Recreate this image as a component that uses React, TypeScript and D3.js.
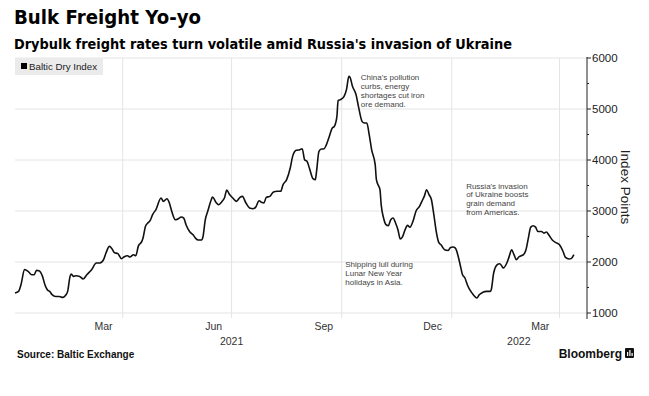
import * as d3 from 'd3';

// Baltic Dry Index
const DATES = [
  '2021-01-01', '2021-01-04', '2021-01-06', '2021-01-09', '2021-01-12', '2021-01-15', '2021-01-17', '2021-01-19',
  '2021-01-21', '2021-01-24', '2021-01-26', '2021-01-28', '2021-01-30', '2021-02-01', '2021-02-04', '2021-02-07',
  '2021-02-10', '2021-02-12', '2021-02-14', '2021-02-16', '2021-02-17', '2021-02-19', '2021-02-21', '2021-02-24',
  '2021-02-27', '2021-03-02', '2021-03-06', '2021-03-10', '2021-03-13', '2021-03-16', '2021-03-18', '2021-03-21',
  '2021-03-23', '2021-03-25', '2021-03-28', '2021-03-31', '2021-04-02', '2021-04-05', '2021-04-07', '2021-04-10',
  '2021-04-12', '2021-04-14', '2021-04-17', '2021-04-18', '2021-04-20', '2021-04-22', '2021-04-24', '2021-04-26',
  '2021-04-29', '2021-05-03', '2021-05-05', '2021-05-08', '2021-05-10', '2021-05-12', '2021-05-15', '2021-05-17',
  '2021-05-20', '2021-05-22', '2021-05-24', '2021-05-27', '2021-05-30', '2021-06-01', '2021-06-03', '2021-06-06',
  '2021-06-07', '2021-06-09', '2021-06-11', '2021-06-14', '2021-06-15', '2021-06-18', '2021-06-20', '2021-06-23',
  '2021-06-25', '2021-06-27', '2021-06-29', '2021-07-02', '2021-07-05', '2021-07-08', '2021-07-10', '2021-07-13',
  '2021-07-16', '2021-07-19', '2021-07-21', '2021-07-24', '2021-07-26', '2021-07-28', '2021-07-30', '2021-08-02',
  '2021-08-05', '2021-08-08', '2021-08-11', '2021-08-13', '2021-08-16', '2021-08-19', '2021-08-21', '2021-08-24',
  '2021-08-27', '2021-08-29', '2021-08-31', '2021-09-02', '2021-09-04', '2021-09-07', '2021-09-09', '2021-09-10',
  '2021-09-12', '2021-09-14', '2021-09-16', '2021-09-18', '2021-09-20', '2021-09-23', '2021-09-25', '2021-09-27',
  '2021-09-28', '2021-09-30', '2021-10-03', '2021-10-05', '2021-10-07', '2021-10-08', '2021-10-10', '2021-10-13',
  '2021-10-15', '2021-10-18', '2021-10-20', '2021-10-22', '2021-10-24', '2021-10-26', '2021-10-29', '2021-10-30',
  '2021-11-01', '2021-11-02', '2021-11-03', '2021-11-05', '2021-11-07', '2021-11-09', '2021-11-11', '2021-11-13',
  '2021-11-15', '2021-11-17', '2021-11-19', '2021-11-21', '2021-11-23', '2021-11-25', '2021-11-27', '2021-11-30',
  '2021-12-02', '2021-12-05', '2021-12-07', '2021-12-09', '2021-12-11', '2021-12-13', '2021-12-15', '2021-12-17',
  '2021-12-19', '2021-12-21', '2021-12-23', '2021-12-26', '2021-12-29', '2021-12-31', '2022-01-02', '2022-01-04',
  '2022-01-06', '2022-01-08', '2022-01-10', '2022-01-12', '2022-01-14', '2022-01-16', '2022-01-19', '2022-01-22',
  '2022-01-24', '2022-01-27', '2022-01-30', '2022-02-02', '2022-02-03', '2022-02-05', '2022-02-08', '2022-02-10',
  '2022-02-12', '2022-02-13', '2022-02-16', '2022-02-18', '2022-02-20', '2022-02-22', '2022-02-24', '2022-02-26',
  '2022-02-28', '2022-03-02', '2022-03-04', '2022-03-06', '2022-03-08', '2022-03-10', '2022-03-12', '2022-03-14',
  '2022-03-17', '2022-03-19', '2022-03-21', '2022-03-23', '2022-03-26', '2022-03-29', '2022-04-01', '2022-04-04',
  '2022-04-06', '2022-04-09', '2022-04-11', '2022-04-13',
];

const BDI = [
  1392, 1424, 1555, 1850, 1816, 1750, 1750, 1835,
  1830, 1718, 1555, 1457, 1424, 1359, 1325, 1325,
  1306, 1340, 1424, 1718, 1765, 1718, 1731, 1718,
  1667, 1750, 1850, 1980, 1980, 2045, 2176, 2306,
  2261, 2185, 2163, 2065, 2098, 2124, 2098, 2143,
  2124, 2306, 2404, 2470, 2698, 2765, 2816, 2927,
  3039, 3255, 3188, 3241, 3157, 2992, 2829, 2843,
  2882, 2860, 2725, 2594, 2529, 2463, 2431, 2431,
  2484, 2827, 2990, 3220, 3274, 3168, 3124, 3188,
  3255, 3410, 3333, 3255, 3189, 3268, 3287, 3157,
  3059, 3045, 3071, 3202, 3170, 3157, 3268, 3287,
  3373, 3386, 3386, 3516, 3614, 3843, 4071, 4190,
  4203, 4222, 4006, 3974, 3843, 3634, 3614, 3778,
  4170, 4216, 4216, 4288, 4415, 4620, 4665, 4856,
  5163, 5183, 5248, 5379, 5640, 5621, 5444, 5281,
  5052, 4758, 4725, 4725, 4497, 4203, 3909, 3614,
  3484, 3418, 3124, 2863, 2732, 2712, 2829, 2863,
  2765, 2634, 2451, 2503, 2634, 2719, 2680, 2829,
  2992, 3091, 3189, 3287, 3418, 3320, 3220, 2927,
  2600, 2390, 2337, 2240, 2226, 2285, 2294, 2273,
  2143, 1947, 1750, 1686, 1555, 1457, 1359, 1294,
  1359, 1405, 1424, 1424, 1457, 1784, 1947, 1967,
  1914, 1882, 1980, 2110, 2240, 2143, 2045, 2098,
  2124, 2143, 2240, 2469, 2684, 2712, 2684, 2598,
  2598, 2567, 2588, 2533, 2431, 2379, 2337, 2206,
  2090, 2059, 2071, 2143,
];

const Y_TICKS = [1000, 2000, 3000, 4000, 5000, 6000];
const MONTH_LABELS = [
  { label: 'Mar', date: '2021-03-16' },
  { label: 'Jun', date: '2021-06-16' },
  { label: 'Sep', date: '2021-09-16' },
  { label: 'Dec', date: '2021-12-16' },
  { label: 'Mar', date: '2022-03-16' },
];
const GRID_DATES = ['2021-04-01', '2021-07-01', '2021-10-01', '2022-01-01', '2022-04-01'];
const YEAR_LABELS = [
  { label: '2021', date: '2021-07-01' },
  { label: '2022', date: '2022-02-26' },
];

const NOTES = [
  { lines: ["China's pollution", 'curbs, energy', 'shortages cut iron', 'ore demand.'], date: '2021-10-17', value: 5560 },
  { lines: ['Shipping lull during', 'Lunar New Year', 'holidays in Asia.'], date: '2021-10-04', value: 1900 },
  { lines: ["Russia's invasion", 'of Ukraine boosts', 'grain demand', 'from Americas.'], date: '2022-01-13', value: 3440 },
];

const W = 649;
const H = 396;
const FONT = '"Liberation Sans", Arial, sans-serif';
const TITLE_FONT = '"DejaVu Sans", "Liberation Sans", sans-serif';

const parse = d3.timeParse('%Y-%m-%d');

export default function App() {
  const x = d3.scaleTime()
    .domain([parse('2021-01-01')!, parse('2022-04-24')!])
    .range([15, 587]);
  const y = d3.scaleLinear().domain([1000, 6000]).range([313, 58]);

  const points = DATES.map((d, i) => ({ date: parse(d)!, value: BDI[i] }));
  const line = d3.line<{ date: Date; value: number }>()
    .x(d => x(d.date))
    .y(d => y(d.value))
    .curve(d3.curveMonotoneX);

  const minorTicks = d3.range(1500, 6000, 1000);

  return (
    <div style={{ position: 'absolute', left: 0, top: 0, background: '#fff' }}>
      <svg width={W} height={H} style={{ display: 'block', fontFamily: FONT }}>
        <rect width={W} height={H} fill="#fff" />

        {/* titles */}
        <text x={14} y={24} fontSize={20} fontWeight="bold" fill="#000" fontFamily={TITLE_FONT}
          textLength={187} lengthAdjust="spacingAndGlyphs">Bulk Freight Yo-yo</text>
        <text x={14} y={49} fontSize={14} fontWeight="bold" fill="#000" fontFamily={TITLE_FONT}
          textLength={498} lengthAdjust="spacingAndGlyphs">
          Drybulk freight rates turn volatile amid Russia's invasion of Ukraine
        </text>

        {/* grid */}
        {Y_TICKS.map(t => (
          <line key={t} x1={15} x2={587} y1={y(t)} y2={y(t)} stroke="#e4e4e4" strokeWidth={1} />
        ))}
        {GRID_DATES.map(d => (
          <line key={d} x1={x(parse(d)!)} x2={x(parse(d)!)} y1={58} y2={318} stroke="#e4e4e4" strokeWidth={1} />
        ))}

        {/* legend */}
        <rect x={15} y={58} width={88} height={17} fill="#ebebeb" />
        <rect x={21} y={63} width={6} height={6} fill="#000" />
        <text x={29} y={69.5} fontSize={9.5} fill="#222" textLength={68} lengthAdjust="spacingAndGlyphs">Baltic Dry Index</text>

        {/* right axis */}
        <line x1={587} x2={587} y1={57} y2={319} stroke="#222" strokeWidth={1} />
        {Y_TICKS.map(t => (
          <g key={t}>
            <line x1={587} x2={591} y1={y(t)} y2={y(t)} stroke="#222" />
            <text x={592} y={y(t) + 4} fontSize={11.5} fill="#222">{t}</text>
          </g>
        ))}
        {minorTicks.map(t => (
          <line key={t} x1={587} x2={589} y1={y(t)} y2={y(t)} stroke="#222" />
        ))}
        <text transform={`translate(621,187) rotate(90)`} textAnchor="middle" fontSize={13.5} fill="#222">Index Points</text>

        {/* x axis labels */}
        {MONTH_LABELS.map((m, i) => (
          <text key={i} x={x(parse(m.date)!)} y={330} textAnchor="middle" fontSize={10.5} fill="#333">{m.label}</text>
        ))}
        {YEAR_LABELS.map(m => (
          <text key={m.label} x={x(parse(m.date)!)} y={345} textAnchor="middle" fontSize={10.5} fill="#333">{m.label}</text>
        ))}

        {/* the line */}
        <path d={line(points) || ''} fill="none" stroke="#111" strokeWidth={1.6} strokeLinejoin="round" />

        {/* annotations */}
        {NOTES.map((n, i) => (
          <text key={i} x={x(parse(n.date)!)} y={y(n.value)} fontSize={8} fill="#444">
            {n.lines.map((l, j) => (
              <tspan key={j} x={x(parse(n.date)!)} dy={j === 0 ? 0 : 8.8}>{l}</tspan>
            ))}
          </text>
        ))}

        {/* footer */}
        <text x={17} y={358} fontSize={10} fontWeight="bold" fill="#111">Source: Baltic Exchange</text>
        <text x={622} y={358} textAnchor="end" fontSize={12} fontWeight="bold" fill="#111">Bloomberg</text>
        <rect x={625} y={348} width={9} height={10} rx={1} fill="#111" />
        <rect x={627} y={352} width={1.2} height={4} fill="#fff" />
        <rect x={629.3} y={350} width={1.2} height={6} fill="#fff" />
        <rect x={631.5} y={353} width={1.2} height={3} fill="#fff" />
      </svg>
    </div>
  );
}
